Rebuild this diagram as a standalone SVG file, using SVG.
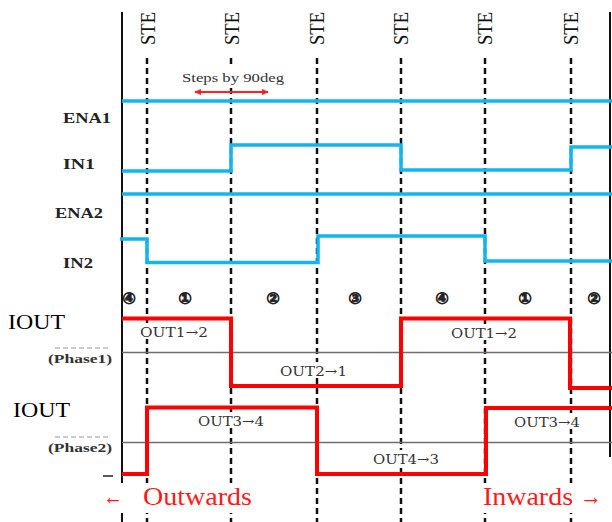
<svg xmlns="http://www.w3.org/2000/svg" width="612" height="522" viewBox="0 0 612 522">
<style>
.grid{stroke:#111;stroke-width:2.5;stroke-dasharray:6 4;fill:none}
.solid{stroke:#111;stroke-width:2;fill:none}
.blue{stroke:#14b4ef;stroke-width:3.5;fill:none}
.red{stroke:#ff0000;stroke-width:4;fill:none}
.phase{stroke:#6e6e6e;stroke-width:1.6;fill:none}
.pdash{stroke:#999;stroke-width:1.2;stroke-dasharray:5 3;fill:none}
.ste{font-family:"Liberation Serif","DejaVu Serif",serif;font-size:20px;fill:#111}
.sig{font-family:"Liberation Serif","DejaVu Serif",serif;font-size:14px;font-weight:bold;fill:#222}
.iout{font-family:"Liberation Serif","DejaVu Serif",serif;font-size:22px;fill:#000}
.ph{font-family:"Liberation Serif","DejaVu Serif",serif;font-size:13px;font-weight:bold;fill:#333}
.out{font-family:"DejaVu Serif","Liberation Serif",serif;font-size:13px;fill:#333}
.num{font-family:"DejaVu Sans",sans-serif;font-size:16px;font-weight:bold;fill:#222;stroke:#222;stroke-width:0.8;text-anchor:middle}
.dir{font-family:"Liberation Serif","DejaVu Serif",serif;font-size:25px;fill:#ff1a1a}
.small{font-family:"Liberation Serif","DejaVu Serif",serif;font-size:12px;fill:#333}
</style>
<defs>
<marker id="ah" markerWidth="8" markerHeight="8" refX="6" refY="4" orient="auto-start-reverse" markerUnits="userSpaceOnUse">
<path d="M0,1 L7,4 L0,7 z" fill="#ff2020"/>
</marker>
</defs>
<rect width="612" height="522" fill="#fff"/>

<g id="connectors">
<line class="grid" x1="147" y1="58" x2="147" y2="522"/>
<line class="grid" x1="231" y1="58" x2="231" y2="522"/>
<line class="grid" x1="317" y1="58" x2="317" y2="522"/>
<line class="grid" x1="401" y1="58" x2="401" y2="522"/>
<line class="grid" x1="485" y1="58" x2="485" y2="522"/>
<line class="grid" x1="571" y1="58" x2="571" y2="522"/>
<line class="solid" x1="122" y1="12" x2="122" y2="522"/>
<line class="solid" x1="610" y1="12" x2="610" y2="457"/>
</g>

<g id="ste-labels">
<text class="ste" transform="translate(155,45) rotate(-90)" textLength="33" lengthAdjust="spacingAndGlyphs">STE</text>
<text class="ste" transform="translate(239,45) rotate(-90)" textLength="33" lengthAdjust="spacingAndGlyphs">STE</text>
<text class="ste" transform="translate(324,45) rotate(-90)" textLength="33" lengthAdjust="spacingAndGlyphs">STE</text>
<text class="ste" transform="translate(408,45) rotate(-90)" textLength="33" lengthAdjust="spacingAndGlyphs">STE</text>
<text class="ste" transform="translate(492,45) rotate(-90)" textLength="33" lengthAdjust="spacingAndGlyphs">STE</text>
<text class="ste" transform="translate(578,45) rotate(-90)" textLength="33" lengthAdjust="spacingAndGlyphs">STE</text>
</g>

<g id="steps">
<rect x="180" y="67" width="108" height="19" fill="#fff"/>
<text class="small" x="182" y="82" textLength="102" lengthAdjust="spacingAndGlyphs">Steps by 90deg</text>
<line x1="195" y1="92" x2="268" y2="92" stroke="#ff2020" stroke-width="2" marker-start="url(#ah)" marker-end="url(#ah)"/>
</g>

<g id="ENA1">
<text class="sig" x="63" y="123" textLength="48" lengthAdjust="spacingAndGlyphs">ENA1</text>
<line class="blue" x1="122" y1="101" x2="612" y2="101"/>
</g>
<g id="IN1">
<text class="sig" x="63" y="169" textLength="32" lengthAdjust="spacingAndGlyphs">IN1</text>
<polyline class="blue" points="122,171 231,171 231,145 401,145 401,170 571,170 571,147 612,147"/>
</g>
<g id="ENA2">
<text class="sig" x="55" y="218" textLength="48" lengthAdjust="spacingAndGlyphs">ENA2</text>
<line class="blue" x1="122" y1="194" x2="612" y2="194"/>
</g>
<g id="IN2">
<text class="sig" x="63" y="268" textLength="30" lengthAdjust="spacingAndGlyphs">IN2</text>
<polyline class="blue" points="120,239 147,239 147,262.5 318,262.5 318,236 485,236 485,261 612,261"/>
</g>

<g id="steps-numbers">
<text class="num" x="129" y="304">④</text>
<text class="num" x="185" y="304">①</text>
<text class="num" x="273" y="304">②</text>
<text class="num" x="355" y="304">③</text>
<text class="num" x="442" y="304">④</text>
<text class="num" x="525" y="304">①</text>
<text class="num" x="594" y="304">②</text>
</g>

<g id="IOUT1">
<text class="iout" x="8" y="329" textLength="57" lengthAdjust="spacingAndGlyphs">IOUT</text>
<line class="pdash" x1="55" y1="348" x2="110" y2="348"/>
<text class="ph" x="48" y="363" textLength="64" lengthAdjust="spacingAndGlyphs">(Phase1)</text>
<line class="phase" x1="122" y1="352.5" x2="612" y2="352.5"/>
<polyline class="red" points="122,318.5 231,318.5 231,386 401,386 401,318.5 570,318.5 570,388 612,388"/>
<rect x="138" y="323" width="72" height="16" fill="#fff"/>
<text class="out" x="140" y="337" textLength="68" lengthAdjust="spacingAndGlyphs">OUT1→2</text>
<rect x="278" y="362" width="72" height="16" fill="#fff"/>
<text class="out" x="280" y="376" textLength="67" lengthAdjust="spacingAndGlyphs">OUT2→1</text>
<rect x="449" y="324" width="71" height="16" fill="#fff"/>
<text class="out" x="451" y="338" textLength="66" lengthAdjust="spacingAndGlyphs">OUT1→2</text>
</g>

<g id="IOUT2">
<text class="iout" x="13" y="417" textLength="57" lengthAdjust="spacingAndGlyphs">IOUT</text>
<line class="pdash" x1="55" y1="437" x2="110" y2="437"/>
<text class="ph" x="48" y="452" textLength="64" lengthAdjust="spacingAndGlyphs">(Phase2)</text>
<line class="phase" x1="122" y1="442.5" x2="612" y2="442.5"/>
<line x1="103" y1="476" x2="113" y2="476" stroke="#222" stroke-width="1.5"/>
<polyline class="red" points="122,474 147,474 147,407.5 317,407.5 317,474 486,474 486,408 612,408"/>
<rect x="196" y="412" width="70" height="16" fill="#fff"/>
<text class="out" x="198" y="426" textLength="66" lengthAdjust="spacingAndGlyphs">OUT3→4</text>
<rect x="371" y="450" width="70" height="16" fill="#fff"/>
<text class="out" x="373" y="464" textLength="66" lengthAdjust="spacingAndGlyphs">OUT4→3</text>
<rect x="512" y="413" width="70" height="16" fill="#fff"/>
<text class="out" x="514" y="427" textLength="66" lengthAdjust="spacingAndGlyphs">OUT3→4</text>
</g>

<g id="directions">
<rect x="100" y="483" width="156" height="30" fill="#fff"/>
<text class="dir" x="103" y="505" textLength="20" lengthAdjust="spacingAndGlyphs">←</text>
<text class="dir" x="143" y="505" textLength="109" lengthAdjust="spacingAndGlyphs">Outwards</text>
<rect x="481" y="483" width="126" height="30" fill="#fff"/>
<text class="dir" x="483" y="505" textLength="90" lengthAdjust="spacingAndGlyphs">Inwards</text>
<text class="dir" x="580" y="505" textLength="22" lengthAdjust="spacingAndGlyphs">→</text>
</g>
</svg>
